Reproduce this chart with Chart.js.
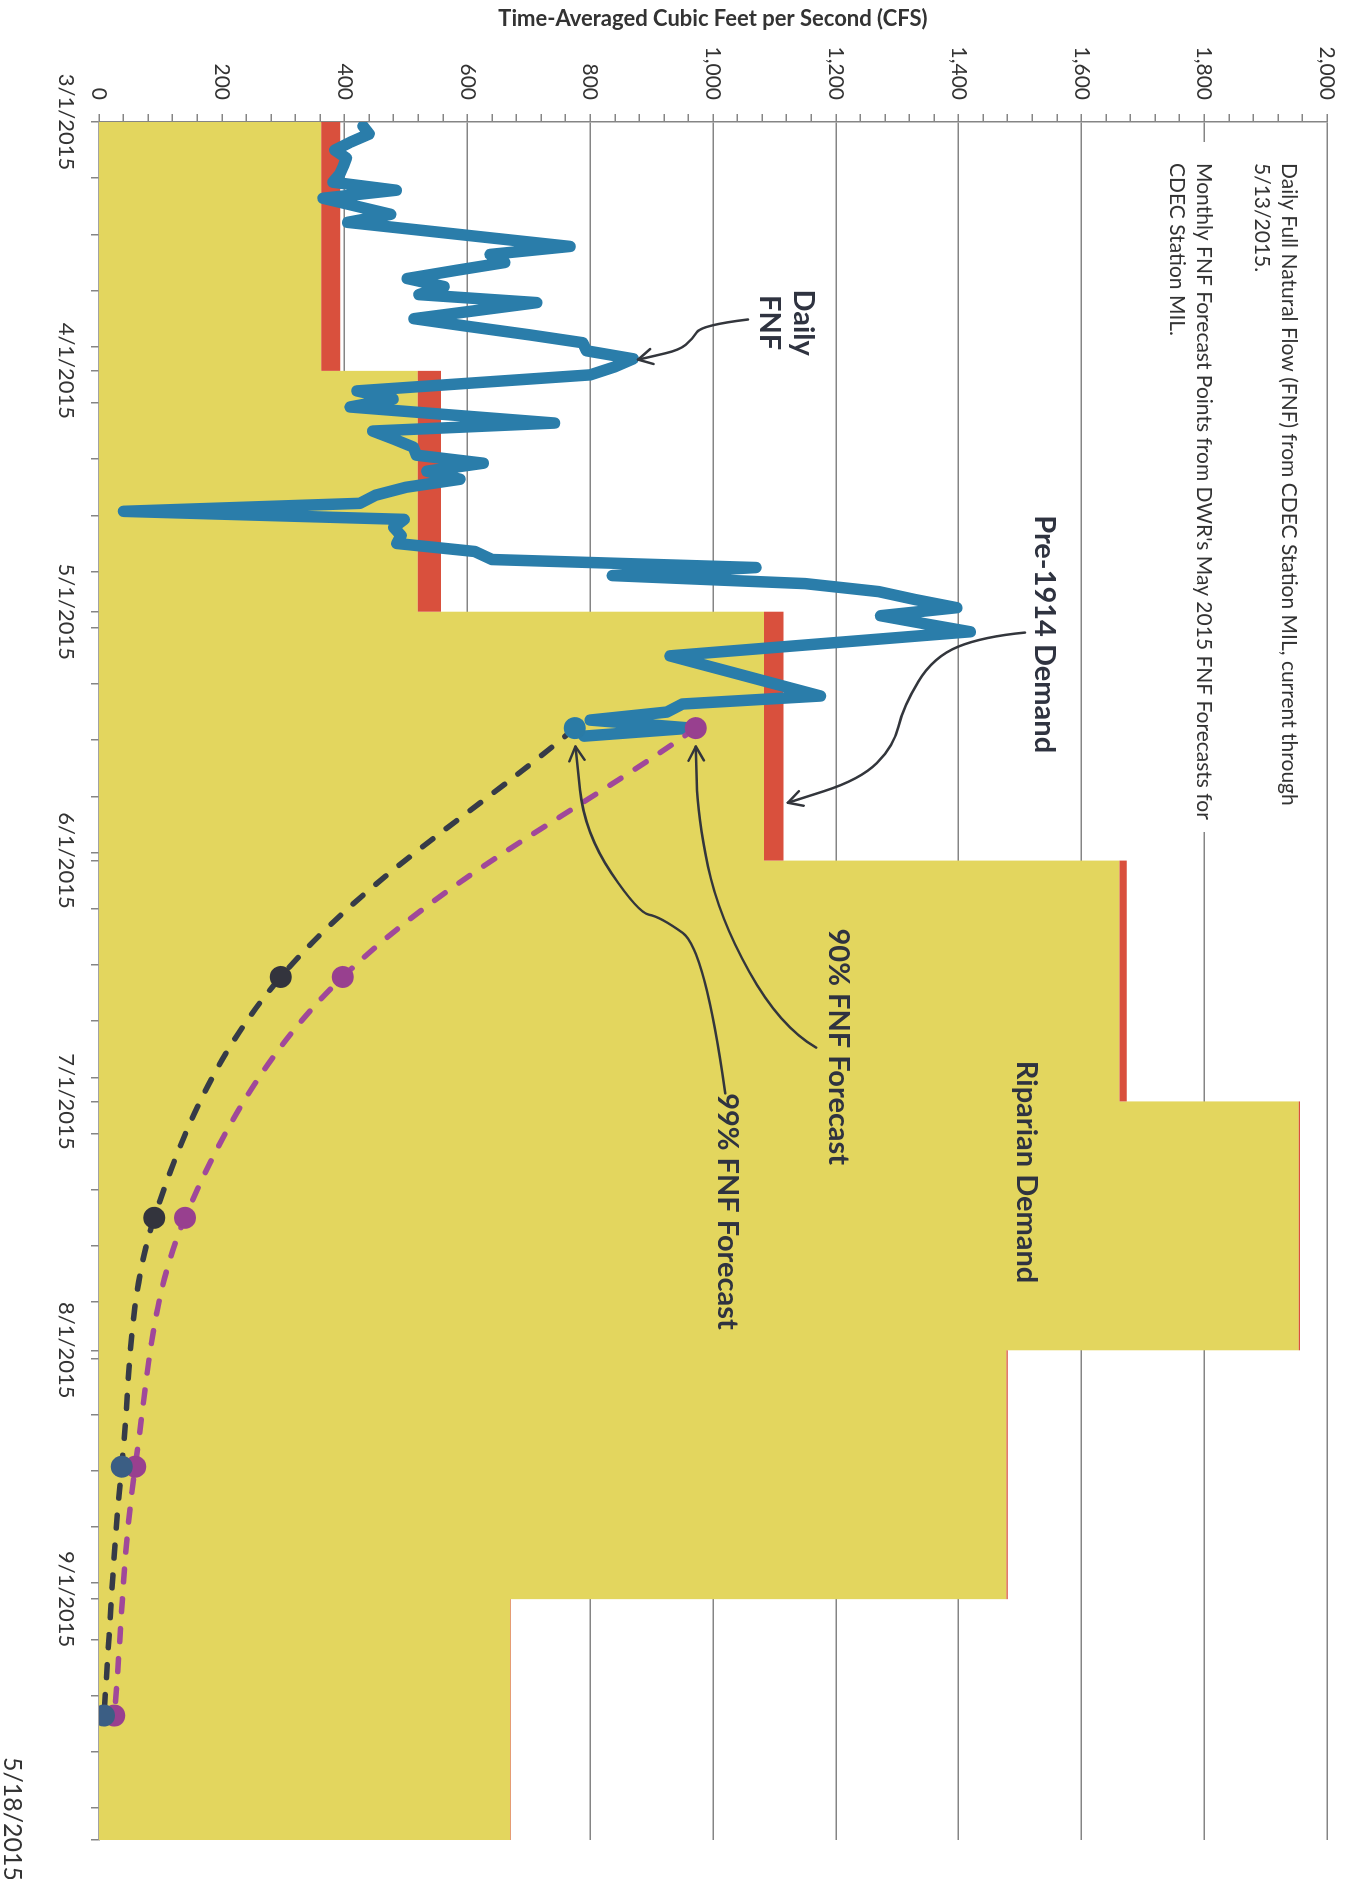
<!DOCTYPE html>
<html>
<head>
<meta charset="utf-8">
<script src="https://cdn.jsdelivr.net/npm/chart.js@4.4.0/dist/chart.umd.min.js"></script>
<style>
  html, body { margin: 0; padding: 0; background: #fff; overflow: hidden; width: 1356px; height: 1879px; }
  /* the scanned chart is turned a quarter clockwise, so draw it upright and rotate the box */
  #turn { position: absolute; left: 0; top: 0; width: 1879px; height: 1356px;
          transform-origin: 0 0; transform: translate(1356px, 0) rotate(90deg); }
</style>
</head>
<body>
<div id="turn"><canvas id="flowChart" width="1879" height="1356"></canvas></div>
<script>
// daily full natural flow, CDEC station MIL, one value per day from 3/1/2015
const fnfStart = '2015-03-01';
const fnfDaily = [
  430, 440, 410, 384, 403, 398, 392, 381, 484, 365,
  420, 475, 405, 526, 646, 767, 637, 661, 580, 502,
  562, 521, 713, 613, 513, 605, 700, 788, 794, 870,
  840, 800, 610, 420, 479, 409, 575, 742, 446, 480,
  512, 517, 626, 534, 588, 500, 450, 425, 40, 497,
  480, 492, 485, 612, 640, 1070, 836, 1150, 1270, 1330,
  1397, 1273, 1345, 1419, 1256, 1093, 930, 979, 1028, 1077,
  1126, 1175, 950, 925, 800, 965, 790
];

// monthly demand steps
const monthDates = ['2015-03-01', '2015-04-01', '2015-05-01', '2015-06-01', '2015-07-01', '2015-08-01', '2015-09-01', '2015-10-01'];
const monthLabels = ['3/1/2015', '4/1/2015', '5/1/2015', '6/1/2015', '7/1/2015', '8/1/2015', '9/1/2015'];
const riparianDemand = [362, 519, 1083, 1662, 1954, 1478, 670];
const pre1914Demand = [31, 38, 32, 12, 2, 2, 1];

// DWR May 2015 monthly forecast points
const forecastDates = ['2015-05-15', '2015-06-15', '2015-07-15', '2015-08-15', '2015-09-15'];
const forecast90 = [972, 397, 140, 59, 25];
const forecast99 = [775, 296, 90, 37, 8];

const dayOf = s => (Date.parse(s) - Date.parse(fnfStart)) / 86400000;
const monthDays = monthDates.map(dayOf);
const axisEnd = monthDays[monthDays.length - 1];

// excel date axis puts each day in the middle of its slot
const fnfPoints = fnfDaily.map((v, i) => ({ x: i + 0.5, y: v }));
const forecastX = forecastDates.map(s => dayOf(s) + 0.5);

function stepPoints(values) {
  const pts = values.map((v, i) => ({ x: monthDays[i], y: v }));
  pts.push({ x: axisEnd, y: values[values.length - 1] });
  return pts;
}
const totalDemand = riparianDemand.map((v, i) => v + pre1914Demand[i]);

const tickDays = [];
for (let d = 0; d <= axisEnd; d += 7) tickDays.push(d);
monthDays.forEach(d => { if (!tickDays.includes(d)) tickDays.push(d); });
tickDays.sort((a, b) => a - b);

const FONT = 'Lato, "Liberation Sans", sans-serif';
const GRID = '#858585';
const INK = '#2f3340';

// call-outs, in chart units (day, cfs)
const callouts = [
  { lines: ['Daily', 'FNF'], day: 25, cfs: 1120, arrow: [[24.6, 1057], [25.3, 981], [27.1, 966], [28.4, 945], [29.2, 901], [29.6, 878]] },
  { lines: ['Pre-1914 Demand'], day: 63.8, cfs: 1539, arrow: [[63.6, 1508], [64.1, 1440], [66.6, 1359], [72.8, 1310], [77.8, 1294], [81.9, 1240], [84.8, 1122]] },
  { lines: ['Riparian Demand'], day: 130.8, cfs: 1510 },
  { lines: ['90% FNF Forecast'], day: 115.2, cfs: 1204, arrow: [[115.3, 1168], [112.7, 1109], [99, 1009], [86.5, 975], [77.8, 972]] },
  { lines: ['99% FNF Forecast'], day: 135.7, cfs: 1024, arrow: [[121, 1020], [103, 987], [99, 914], [98.5, 878], [88.6, 791], [77.8, 776]] }
];

const legendLines = [
  'Daily Full Natural Flow (FNF) from CDEC Station MIL, current through',
  '5/13/2015.',
  'Monthly FNF Forecast Points from DWR\'s May 2015 FNF Forecasts for',
  'CDEC Station MIL.'
];
const printDate = '5/18/2015';

function drawArrow(ctx, pts) {
  ctx.beginPath();
  ctx.moveTo(pts[0][0], pts[0][1]);
  for (let i = 1; i < pts.length - 1; i++) {
    const mx = (pts[i][0] + pts[i + 1][0]) / 2;
    const my = (pts[i][1] + pts[i + 1][1]) / 2;
    ctx.quadraticCurveTo(pts[i][0], pts[i][1], mx, my);
  }
  const tip = pts[pts.length - 1];
  const prev = pts[pts.length - 2];
  ctx.lineTo(tip[0], tip[1]);
  ctx.stroke();
  const ang = Math.atan2(tip[1] - prev[1], tip[0] - prev[0]);
  ctx.beginPath();
  ctx.moveTo(tip[0] - 16 * Math.cos(ang - 0.5), tip[1] - 16 * Math.sin(ang - 0.5));
  ctx.lineTo(tip[0], tip[1]);
  ctx.lineTo(tip[0] - 16 * Math.cos(ang + 0.5), tip[1] - 16 * Math.sin(ang + 0.5));
  ctx.stroke();
}

const notes = {
  id: 'notes',
  afterDatasetsDraw(chart) {
    const { ctx, chartArea: a, scales: { x, y } } = chart;
    ctx.save();

    // legend box sits over the plot and hides the 1,800 gridline
    ctx.fillStyle = '#fff';
    ctx.fillRect(a.left + 20, a.top + 12, 690, 172);
    ctx.fillStyle = '#333';
    ctx.font = '21px ' + FONT;
    ctx.textAlign = 'left';
    ctx.textBaseline = 'alphabetic';
    const base = [74, 101, 159, 186];
    legendLines.forEach((t, i) => ctx.fillText(t, a.left + 41, base[i]));

    // call-out text and arrows
    ctx.fillStyle = INK;
    ctx.strokeStyle = '#33363c';
    ctx.lineWidth = 2.5;
    ctx.lineCap = 'round';
    ctx.lineJoin = 'round';
    ctx.font = 'bold 29px ' + FONT;
    ctx.textAlign = 'center';
    ctx.textBaseline = 'middle';
    callouts.forEach(c => {
      const cx = x.getPixelForValue(c.day);
      const cy = y.getPixelForValue(c.cfs);
      const h = 34;
      c.lines.forEach((t, i) => ctx.fillText(t, cx, cy + (i - (c.lines.length - 1) / 2) * h));
      if (c.arrow) drawArrow(ctx, c.arrow.map(p => [x.getPixelForValue(p[0]), y.getPixelForValue(p[1])]));
    });

    // print date in the corner of the page
    ctx.fillStyle = '#333';
    ctx.font = '25px ' + FONT;
    ctx.textAlign = 'left';
    ctx.textBaseline = 'alphabetic';
    ctx.fillText(printDate, 1757, 1352);
    ctx.restore();
  }
};

new Chart(document.getElementById('flowChart').getContext('2d'), {
  type: 'line',
  data: {
    datasets: [
      {
        label: 'Riparian Demand',
        data: stepPoints(riparianDemand),
        stepped: 'before',
        backgroundColor: '#e3d65e',
        borderWidth: 0,
        pointRadius: 0,
        fill: 'origin',
        order: 10
      },
      {
        label: 'Pre-1914 Demand',
        data: stepPoints(totalDemand),
        stepped: 'before',
        backgroundColor: '#d9503d',
        borderWidth: 0,
        pointRadius: 0,
        fill: '-1',
        order: 9
      },
      {
        label: 'Daily FNF',
        data: fnfPoints,
        borderColor: '#2a7daa',
        borderWidth: 11.5,
        borderJoinStyle: 'round',
        borderCapStyle: 'round',
        pointRadius: 0,
        fill: false,
        order: 3
      },
      {
        label: '90% FNF Forecast',
        data: forecastX.map((d, i) => ({ x: d, y: forecast90[i] })),
        borderColor: '#a0489a',
        borderWidth: 5.5,
        borderDash: [13, 17],
        borderCapStyle: 'round',
        tension: 0.35,
        pointRadius: 11,
        pointBackgroundColor: '#98408f',
        pointBorderWidth: 0,
        fill: false,
        order: 2
      },
      {
        label: '99% FNF Forecast',
        data: forecastX.map((d, i) => ({ x: d, y: forecast99[i] })),
        borderColor: '#363b48',
        borderWidth: 5.5,
        borderDash: [13, 17],
        borderCapStyle: 'round',
        tension: 0.35,
        pointRadius: 11,
        pointBackgroundColor: ['#2a7ba6', '#33343d', '#33343d', '#3b5e84', '#3b5e84'],
        pointBorderWidth: 0,
        fill: false,
        order: 1
      }
    ]
  },
  options: {
    responsive: false,
    animation: false,
    layout: { padding: { top: 29, right: 39, left: 0, bottom: 0 } },
    plugins: { legend: { display: false }, tooltip: { enabled: false } },
    scales: {
      x: {
        type: 'linear',
        min: 0,
        max: axisEnd,
        afterFit: s => { s.height = 99; },
        afterBuildTicks: s => { s.ticks = tickDays.map(v => ({ value: v })); },
        grid: { display: true, drawOnChartArea: false, tickLength: 8, color: GRID, lineWidth: 1.5 },
        border: { display: true, color: GRID, width: 1.5 },
        ticks: {
          autoSkip: false,
          maxRotation: 0,
          padding: 12,
          color: '#333',
          font: { family: FONT, size: 22 },
          callback: v => {
            const i = monthDays.indexOf(v);
            return i >= 0 && i < monthLabels.length ? monthLabels[i] : '';
          }
        }
      },
      y: {
        min: 0,
        max: 2000,
        afterFit: s => { s.width = 122; },
        grid: {
          color: c => (c.tick && c.tick.value % 200 === 0 ? GRID : 'rgba(0,0,0,0)'),
          tickColor: GRID,
          lineWidth: 1.5,
          tickWidth: 1.5,
          tickLength: 8
        },
        border: { display: true, color: GRID, width: 1.5 },
        title: {
          display: true,
          text: 'Time-Averaged Cubic Feet per Second (CFS)',
          color: '#333',
          font: { family: FONT, size: 22, weight: 'bold' },
          padding: { top: 6, bottom: 0 }
        },
        ticks: {
          stepSize: 40,
          autoSkip: false,
          padding: 14,
          color: '#333',
          font: { family: FONT, size: 21 },
          callback: v => (v % 200 === 0 ? v.toLocaleString('en-US') : '')
        }
      }
    }
  },
  plugins: [notes]
});
</script>
</body>
</html>
